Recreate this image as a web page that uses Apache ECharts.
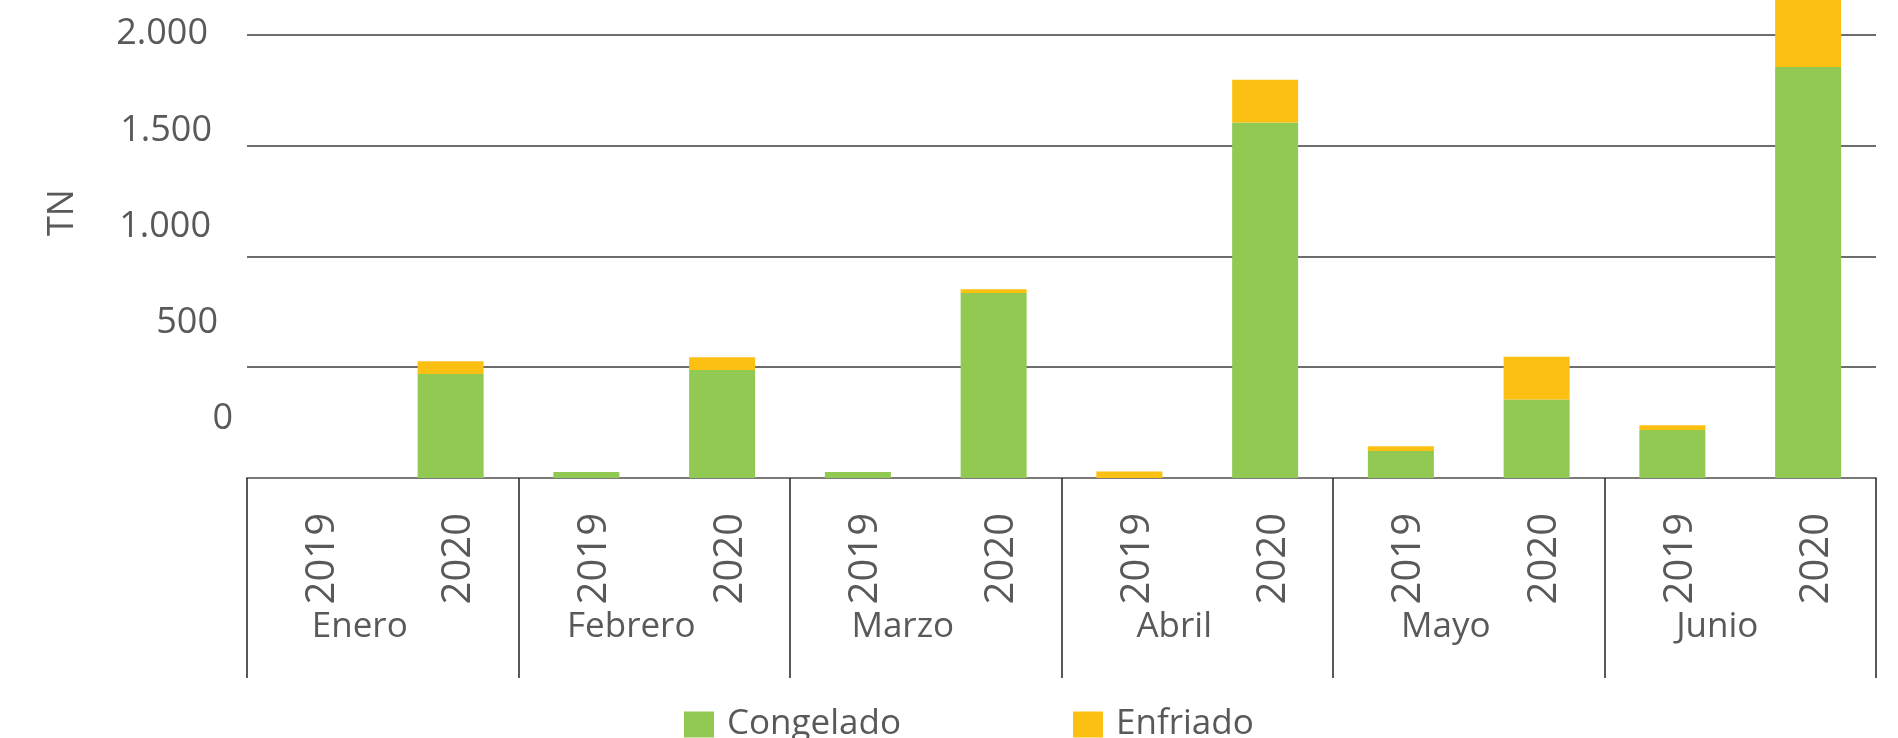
<!DOCTYPE html>
<html>
<head>
<meta charset="utf-8">
<script src="https://cdn.jsdelivr.net/npm/echarts@6/dist/echarts.min.js"></script>
<style>
  html, body { margin: 0; padding: 0; background: #fff; }
  #chart { width: 1898px; height: 738px; }
</style>
</head>
<body>
<div id="chart"></div>
<script>
// data
const months = ['Enero', 'Febrero', 'Marzo', 'Abril', 'Mayo', 'Junio']
const years = ['2019', '2020', '2019', '2020', '2019', '2020', '2019', '2020', '2019', '2020', '2019', '2020']
const congelado = [0, 469, 27, 488, 27, 835, 0, 1605, 122, 354, 217, 1855]
const enfriado = [0, 58, 0, 57, 0, 17, 29, 193, 21, 193, 21, 345]
const yTicks = [0, 500, 1000, 1500, 2000]

const textColor = '#595959'
const font = 'Open Sans'

// small right-padding per tick label, as in the original the labels drift
const labelPad = { 0: 0, 500: 15, 1000: 22, 1500: 21, 2000: 25 }
const rich = {}
yTicks.forEach(t => {
  rich['p' + t] = { fontSize: 36, fontFamily: font, color: textColor, padding: [0, labelPad[t], 0, 0] }
})

const fmt = v => String(v).replace(/\B(?=(\d{3})+(?!\d))/g, '.')

const myChart = echarts.init(document.getElementById('chart'))

myChart.setOption({
  animation: false,
  color: ['#92C953', '#FBC012'],
  textStyle: { fontFamily: font, color: textColor },
  grid: [
    { left: 247, right: 22, top: 0, bottom: 260 },
    { left: 247, right: 22, top: 34, bottom: 319 }
  ],
  legend: {
    left: 679,
    top: 702,
    icon: 'rect',
    itemWidth: 30,
    itemHeight: 26,
    itemGap: 172,
    textStyle: { fontSize: 35, color: textColor, fontFamily: font, padding: [0, 0, 0, 8] },
    data: ['Congelado', 'Enfriado']
  },
  xAxis: [
    {
      type: 'category',
      gridIndex: 0,
      data: years,
      axisTick: { show: false },
      axisLine: { show: true, lineStyle: { color: '#7a7a7a', width: 2 } },
      axisLabel: {
        rotate: 90,
        interval: 0,
        margin: 35,
        fontSize: 40,
        color: textColor,
        fontFamily: font,
        verticalAlign: 'top',
        lineHeight: 16
      }
    },
    {
      type: 'category',
      gridIndex: 0,
      position: 'bottom',
      data: months,
      axisLine: { show: false },
      axisTick: { show: true, length: 200, lineStyle: { color: '#222', width: 1.5 } },
      axisLabel: {
        interval: 0,
        margin: 132,
        fontSize: 35,
        color: textColor,
        fontFamily: font,
        padding: [0, 46, 0, 0]
      }
    },
    { type: 'value', gridIndex: 1, show: false }
  ],
  yAxis: [
    {
      type: 'value',
      gridIndex: 0,
      min: 0,
      max: 2158,
      interval: 500,
      axisLine: { show: false },
      axisTick: { show: false },
      axisLabel: { show: false },
      splitLine: {
        show: true,
        showMinLine: false,
        showMaxLine: false,
        lineStyle: { color: '#3d3d3d', width: 1.5 }
      }
    },
    {
      type: 'value',
      gridIndex: 1,
      min: 0,
      max: 2000,
      interval: 500,
      axisLine: { show: false },
      axisTick: { show: false },
      splitLine: { show: false },
      axisLabel: {
        margin: 14,
        formatter: v => '{p' + v + '|' + fmt(v) + '}',
        rich: rich
      },
      name: 'TN',
      nameLocation: 'middle',
      nameRotate: 90,
      nameGap: 166,
      nameTextStyle: { fontSize: 36, color: textColor, fontFamily: font, padding: [0, 0, 0, 28] }
    }
  ],
  series: [
    {
      name: 'Congelado',
      type: 'bar',
      stack: 'tn',
      xAxisIndex: 0,
      yAxisIndex: 0,
      barWidth: 66,
      data: congelado
    },
    {
      name: 'Enfriado',
      type: 'bar',
      stack: 'tn',
      xAxisIndex: 0,
      yAxisIndex: 0,
      barWidth: 66,
      data: enfriado
    }
  ]
})

window.addEventListener('resize', () => {
  myChart.resize()
})
</script>
</body>
</html>
